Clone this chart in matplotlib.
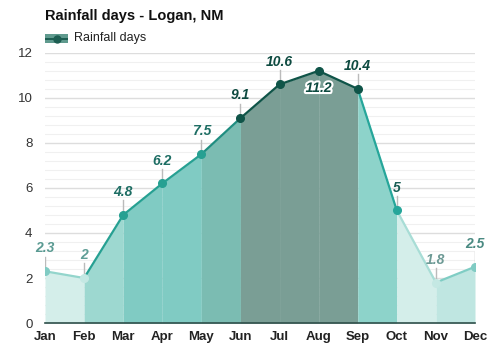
import matplotlib
matplotlib.use("Agg")
import matplotlib.pyplot as plt
import matplotlib.patheffects as pe
from matplotlib.patches import Rectangle
import numpy as np

plt.rcParams['font.family'] = ['Liberation Sans', 'DejaVu Sans']

months = ["Jan", "Feb", "Mar", "Apr", "May", "Jun", "Jul", "Aug", "Sep", "Oct", "Nov", "Dec"]
values = [2.3, 2.0, 4.8, 6.2, 7.5, 9.1, 10.6, 11.2, 10.4, 5.0, 1.8, 2.5]
labels = ["2.3", "2", "4.8", "6.2", "7.5", "9.1", "10.6", "11.2", "10.4", "5", "1.8", "2.5"]

seg_fill = ["#d4eeea", "#9dd8d0", "#80cbc3", "#80cbc3", "#7bbcb2", "#7a9e95",
            "#7a9e95", "#7a9e95", "#8dd3ca", "#d4eeea", "#bfe6e1"]
seg_line = ["#93d5cc", "#26a092", "#26a092", "#26a092", "#1f8d80", "#0f5448",
            "#0f5448", "#0f5448", "#26a69a", "#a8ddd6", "#7fcdc4"]
pt_color = ["#80cbc3", "#c4e8e3", "#26a092", "#26a092", "#26a092", "#0f5448",
            "#0f5448", "#0f5448", "#0f5448", "#26a69a", "#c4e8e3", "#80cbc3"]
lab_color = ["#5a9a92", "#5f9e96", "#1e6e64", "#1e6e64", "#1e6e64", "#0d4a40",
             "#0d4a40", "#0d4a40", "#0d4a40", "#1a5e55", "#6d9a95", "#4a8a82"]

fig = plt.figure(figsize=(5, 3.5), dpi=100)
ax = fig.add_axes([0.09, 0.077, 0.86, 0.772])
x = np.arange(len(months))

for i in range(len(months) - 1):
    xs = [x[i], x[i + 1]]
    ys = [values[i], values[i + 1]]
    ax.fill_between(xs, ys, 0, color=seg_fill[i], lw=0, zorder=1)
    ax.plot(xs, ys, color=seg_line[i], lw=1.6, zorder=3, solid_capstyle="round")

for i in range(len(months)):
    ax.plot(x[i], values[i], "o", ms=5.5, color=pt_color[i], mec=pt_color[i], zorder=4)
    if months[i] == "Aug":
        ax.text(x[i], values[i] - 0.45, labels[i], ha="center", va="top",
                fontsize=10, fontweight="bold", fontstyle="italic", color=lab_color[i],
                path_effects=[pe.withStroke(linewidth=3, foreground="white")], zorder=5)
    else:
        ax.plot([x[i], x[i]], [values[i] + 0.2, values[i] + 0.65], color="#bbbbbb", lw=1, zorder=2)
        ax.text(x[i], values[i] + 0.7, labels[i], ha="center", va="bottom",
                fontsize=10, fontweight="bold", fontstyle="italic", color=lab_color[i], zorder=5)

ax.set_xlim(0, 11)
ax.set_ylim(0, 12)
ax.set_xticks(x)
ax.set_xticklabels(months, fontweight="bold", fontsize=9.5, color="#222222")
ax.set_yticks(np.arange(0, 13, 2))
ax.set_yticklabels([str(v) for v in range(0, 13, 2)], fontsize=9.5, color="#333333")
ax.set_yticks(np.arange(0, 12.01, 0.4), minor=True)
ax.grid(axis="y", which="major", color="#dddddd", lw=1, zorder=0)
ax.grid(axis="y", which="minor", color="#f0f0f0", lw=0.8, zorder=0)
ax.set_axisbelow(True)
ax.tick_params(axis="both", which="both", length=0)
ax.tick_params(axis="y", pad=9)
ax.tick_params(axis="x", pad=6)
for s in ["top", "right", "left"]:
    ax.spines[s].set_visible(False)
ax.spines["bottom"].set_color("#2f4f4a")
ax.spines["bottom"].set_linewidth(1.2)
ax.spines["bottom"].set_zorder(6)

fig.text(0.09, 0.953, "Rainfall days - Logan, NM", fontsize=10.5, fontweight="bold",
         color="#111111", ha="left", va="center")

# legend drawn in figure pixel coords
W, H = 500, 350
fig.add_artist(Rectangle((45 / W, 1 - 43 / H), 23 / W, 9 / H, transform=fig.transFigure,
                         facecolor="#5f9a8e", edgecolor="none"))
fig.add_artist(Rectangle((45 / W, 1 - 39.5 / H), 23 / W, 1.8 / H, transform=fig.transFigure,
                         facecolor="#1d5e52", edgecolor="none"))
fig.add_artist(plt.Line2D([56.5 / W], [1 - 38.6 / H], transform=fig.transFigure,
                          marker="o", ms=5, color="#1d5e52"))
fig.text(74 / W, 1 - 38.5 / H, "Rainfall days", fontsize=9, color="#222222",
         ha="left", va="center")

fig.savefig("out.png", dpi=100, facecolor="white")
